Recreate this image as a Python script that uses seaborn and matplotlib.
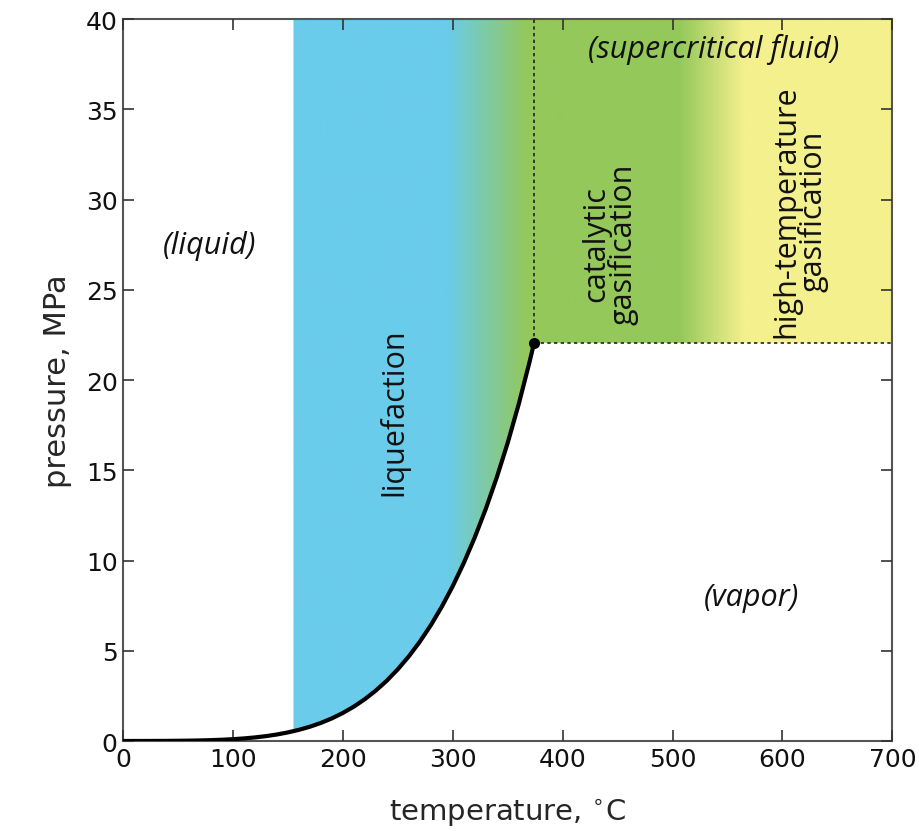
import numpy as np
import seaborn as sns
import matplotlib.pyplot as plt
from matplotlib.colors import LinearSegmentedColormap

# Saturation curve of water (temperature in C, pressure in MPa)
temp = [0, 10, 20, 30, 40, 50, 60, 70, 80, 90, 100, 110, 120, 130, 140,
        150, 160, 170, 180, 190, 200, 210, 220, 230, 240, 250, 260, 270,
        280, 290, 300, 310, 320, 330, 340, 350, 360, 370, 374]
pres = [0.0006, 0.0012, 0.0023, 0.0042, 0.0074, 0.0124, 0.0199, 0.0312,
        0.0474, 0.0702, 0.1014, 0.1434, 0.1987, 0.2703, 0.3615, 0.4762,
        0.6182, 0.7922, 1.0028, 1.2552, 1.5549, 1.9077, 2.3196, 2.7971,
        3.3469, 3.9762, 4.6923, 5.5030, 6.4166, 7.4418, 8.5879, 9.8651,
        11.284, 12.858, 14.601, 16.529, 18.666, 21.044, 22.064]

crit_t, crit_p = 374, 22.064
# lower edge of the shaded process window (starts at ~155 C)
region_t = [155, 160, 170, 180, 190, 200, 210, 220, 230, 240, 250, 260,
            270, 280, 290, 300, 310, 320, 330, 340, 350, 360, 370, 374, 700]
region_p = [0.54, 0.6182, 0.7922, 1.0028, 1.2552, 1.5549, 1.9077, 2.3196,
            2.7971, 3.3469, 3.9762, 4.6923, 5.5030, 6.4166, 7.4418, 8.5879,
            9.8651, 11.284, 12.858, 14.601, 16.529, 18.666, 21.044, 22.064,
            22.064]

# colour stops along temperature
stop_t = [155, 295, 368, 507, 566, 700]
stop_c = ['#6accea', '#6accea', '#94c85a', '#94c85a', '#f4f08e', '#f4f08e']

xticks = [0, 100, 200, 300, 400, 500, 600, 700]
yticks = [0, 5, 10, 15, 20, 25, 30, 35, 40]

sns.set_style('white')
plt.rcParams['font.family'] = ['DejaVu Sans']

fig = plt.figure(figsize=(9.19, 8.37), dpi=100)
ax = fig.add_axes([0.134, 0.1135, 0.837, 0.8625])
ax.set_axisbelow(False)

# shaded region with horizontal colour gradient
poly = ax.fill_between(region_t, region_p, 40, color='none', lw=0)
pos = [(t - stop_t[0]) / (stop_t[-1] - stop_t[0]) for t in stop_t]
cmap = LinearSegmentedColormap.from_list('proc', list(zip(pos, stop_c)))
grad = np.linspace(0, 1, 512).reshape(1, -1)
img = ax.imshow(grad, extent=[stop_t[0], stop_t[-1], 0, 40], aspect='auto',
                cmap=cmap, origin='lower', zorder=1)
img.set_clip_path(poly.get_paths()[0], transform=ax.transData)

# dotted boundaries of the supercritical region
ax.plot([crit_t, crit_t], [crit_p, 40], ls=(0, (2, 2)), color='#222222', lw=1.2, zorder=3)
ax.plot([crit_t, 700], [crit_p, crit_p], ls=(0, (2, 2)), color='#222222', lw=1.2, zorder=3)

# saturation curve and critical point
sns.lineplot(x=temp, y=pres, color='black', lw=3, ax=ax, zorder=4)
ax.plot(crit_t, crit_p, 'o', color='black', ms=7, zorder=5)

# region labels
lab = dict(fontsize=22, family='Open Sans', color='#111111')
ax.text(79, 27.5, '(liquid)', style='italic', ha='center', va='center', **lab)
ax.text(572, 8, '(vapor)', style='italic', ha='center', va='center', **lab)
ax.text(537, 38.4, '(supercritical fluid)', style='italic', ha='center', va='center', **lab)
ax.text(246, 18.3, 'liquefaction', rotation=90, ha='center', va='center', **lab)
ax.text(443, 27.6, 'catalytic\ngasification', rotation=90, ha='center',
        va='center', linespacing=0.85, **lab)
ax.text(616, 29.4, 'high-temperature\ngasification', rotation=90, ha='center',
        va='center', linespacing=0.85, **lab)

ax.set_xlim(0, 700)
ax.set_ylim(0, 40)
ax.set_xticks(xticks)
ax.set_yticks(yticks)
ax.tick_params(direction='in', length=8, width=1.2, bottom=True, left=True,
               top=True, right=True, labelsize=18, colors='#333333',
               labelcolor='#111111', pad=4)
for s in ax.spines.values():
    s.set_color('#555555')
    s.set_linewidth(1.5)
ax.set_xlabel('temperature, $^{\\circ}$C', fontsize=21, labelpad=18)
ax.set_ylabel('pressure, MPa', fontsize=22, labelpad=10)

fig.savefig('out.png', dpi=100)
